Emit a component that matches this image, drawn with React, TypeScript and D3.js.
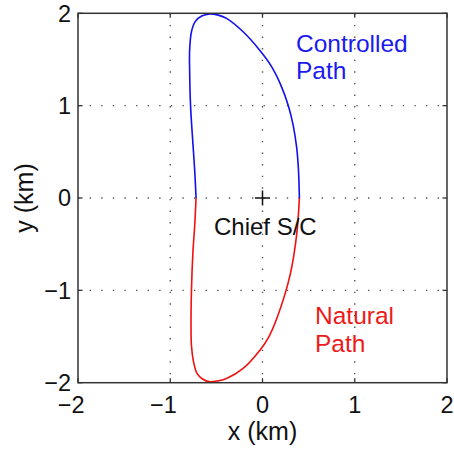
import React from "react";
import * as d3 from "d3";

const controlledX = [0.40, 0.39, 0.37, 0.33, 0.28, 0.20, 0.10, -0.03, -0.21, -0.39, -0.48, -0.57, -0.66, -0.73, -0.77, -0.79, -0.79, -0.78, -0.755, -0.735, -0.72];
const controlledY = [0.00, 0.30, 0.55, 0.80, 1.00, 1.22, 1.42, 1.60, 1.80, 1.945, 1.98, 1.993, 1.97, 1.91, 1.80, 1.60, 1.40, 1.00, 0.60, 0.30, 0.00];
const naturalX = [-0.72, -0.735, -0.755, -0.77, -0.775, -0.77, -0.75, -0.71, -0.65, -0.57, -0.48, -0.39, -0.21, -0.03, 0.06, 0.157, 0.30, 0.37, 0.40];
const naturalY = [0.00, -0.30, -0.60, -1.00, -1.40, -1.60, -1.76, -1.90, -1.96, -1.99, -1.98, -1.955, -1.845, -1.65, -1.52, -1.30, -0.83, -0.40, 0.00];
const xTicks = [-2, -1, 0, 1, 2];
const yTicks = [-2, -1, 0, 1, 2];
const gridTicks = [-1, 0, 1];
const xLabel = "x (km)";
const yLabel = "y (km)";

export default function App() {
  const W = 454, H = 451;
  const L = 78, R = 447, T = 13.3, B = 382.7;
  const x = d3.scaleLinear().domain([-2, 2]).range([L, R]);
  const y = d3.scaleLinear().domain([-2, 2]).range([B, T]);
  const line = d3
    .line<[number, number]>()
    .x((d) => x(d[0]))
    .y((d) => y(d[1]))
    .curve(d3.curveCatmullRom.alpha(0.5));
  const ctrl = controlledX.map((v, i) => [v, controlledY[i]] as [number, number]);
  const nat = naturalX.map((v, i) => [v, naturalY[i]] as [number, number]);
  const font = "'Liberation Sans', Arial, Helvetica, sans-serif";
  const fs = 23.5;
  const tickLen = 4.5;
  const axisColor = "#333";
  const fmt = (v: number) => (v < 0 ? "\u2212" + Math.abs(v) : String(v));
  const digitHalf = fs * 0.556 / 2;

  return (
    <svg width={W} height={H} style={{ position: "absolute", left: 0, top: 0, background: "#fff" }} fontFamily={font}>
      <rect x={0} y={0} width={W} height={H} fill="#fff" />
      {/* grid */}
      {gridTicks.map((t) => (
        <line key={"gx" + t} x1={x(t)} x2={x(t)} y1={T} y2={B} stroke="#555" strokeWidth={1.4} strokeDasharray="1.4,10.2" />
      ))}
      {gridTicks.map((t) => (
        <line key={"gy" + t} x1={L} x2={R} y1={y(t)} y2={y(t)} stroke="#555" strokeWidth={1.4} strokeDasharray="1.4,10.2" />
      ))}
      {/* ticks */}
      {xTicks.map((t) => (
        <g key={"tx" + t}>
          <line x1={x(t)} x2={x(t)} y1={B} y2={B - tickLen} stroke={axisColor} strokeWidth={1.3} />
          <line x1={x(t)} x2={x(t)} y1={T} y2={T + tickLen} stroke={axisColor} strokeWidth={1.3} />
        </g>
      ))}
      {yTicks.map((t) => (
        <g key={"ty" + t}>
          <line x1={L} x2={L + tickLen} y1={y(t)} y2={y(t)} stroke={axisColor} strokeWidth={1.3} />
          <line x1={R} x2={R - tickLen} y1={y(t)} y2={y(t)} stroke={axisColor} strokeWidth={1.3} />
        </g>
      ))}
      {/* curves */}
      <path d={line(ctrl) || ""} fill="none" stroke="#1010f0" strokeWidth={1.6} />
      <path d={line(nat) || ""} fill="none" stroke="#f01010" strokeWidth={1.6} />
      {/* chief marker */}
      <line x1={x(0) - 7.5} x2={x(0) + 7.5} y1={y(0)} y2={y(0)} stroke="#111" strokeWidth={1.5} />
      <line x1={x(0)} x2={x(0)} y1={y(0) - 7.5} y2={y(0) + 7.5} stroke="#111" strokeWidth={1.5} />
      {/* box */}
      <rect x={L} y={T} width={R - L} height={B - T} fill="none" stroke={axisColor} strokeWidth={1.5} />
      {/* tick labels */}
      {xTicks.map((t) => (
        <text
          key={"lx" + t}
          x={t < 0 ? x(t) + digitHalf : x(t)}
          y={412.5}
          textAnchor={t < 0 ? "end" : "middle"}
          fontSize={fs}
          fill="#111"
        >
          {fmt(t)}
        </text>
      ))}
      {yTicks.map((t) => (
        <text key={"ly" + t} x={71} y={y(t) + 8.3} textAnchor="end" fontSize={fs} fill="#111">
          {fmt(t)}
        </text>
      ))}
      {/* axis labels */}
      <text x={(L + R) / 2} y={440} textAnchor="middle" fontSize={25} fill="#111">
        {xLabel}
      </text>
      <text transform={`translate(33,${(T + B) / 2}) rotate(-90)`} textAnchor="middle" fontSize={25} fill="#111">
        {yLabel}
      </text>
      {/* annotations */}
      <text x={296} y={51.5} fontSize={24.5} fill="#1a1aee">Controlled</text>
      <text x={296} y={79} fontSize={24.5} fill="#1a1aee">Path</text>
      <text x={214} y={235} fontSize={24} fill="#111">Chief S/C</text>
      <text x={315} y={323.5} fontSize={24.5} fill="#ee1a1a">Natural</text>
      <text x={315} y={351.5} fontSize={24.5} fill="#ee1a1a">Path</text>
    </svg>
  );
}
